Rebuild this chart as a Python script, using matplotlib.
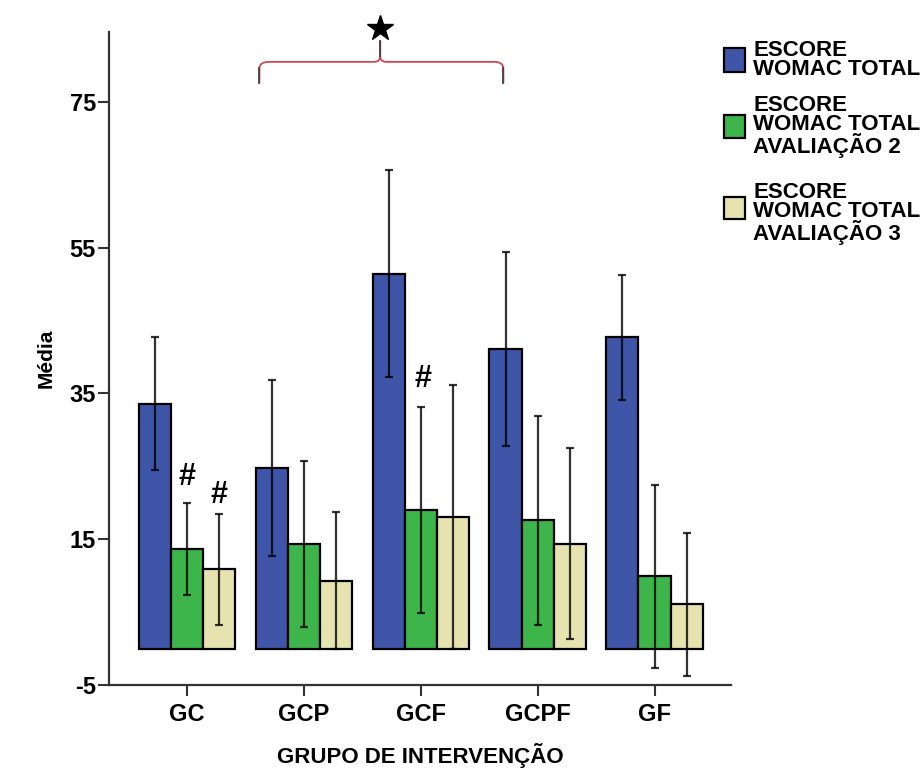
import matplotlib
matplotlib.use("Agg")
import matplotlib.pyplot as plt
import numpy as np
from matplotlib.path import Path
from matplotlib.patches import PathPatch, Rectangle

plt.rcParams['font.family'] = ['Liberation Sans', 'DejaVu Sans']
plt.rcParams['font.weight'] = 'bold'
plt.rcParams['axes.unicode_minus'] = False

# data
grupos = ["GC", "GCP", "GCF", "GCPF", "GF"]
aval1 = [33.6, 24.8, 51.4, 41.1, 42.7]
aval1_err = [9.1, 12.1, 14.2, 13.3, 8.6]
aval2 = [13.7, 14.4, 19.0, 17.6, 9.9]
aval2_err = [6.3, 11.4, 14.1, 14.3, 12.6]
aval3 = [10.9, 9.3, 18.1, 14.4, 6.1]
aval3_err = [7.6, 9.4, 18.1, 13.1, 9.8]
legenda = ["ESCORE\nWOMAC TOTAL",
           "ESCORE\nWOMAC TOTAL\nAVALIAÇÃO 2",
           "ESCORE\nWOMAC TOTAL\nAVALIAÇÃO 3"]
cores = ["#3f56a8", "#3db54a", "#e6e3b0"]
yticks = [-5, 15, 35, 55, 75]

W, H = 921, 780
fig = plt.figure(figsize=(W / 100, H / 100), dpi=100)
ax = fig.add_axes([109 / W, 1 - 685 / H, (731 - 109) / W, (685 - 32) / H])

x = np.arange(len(grupos))
larg = 0.275
series = [(aval1, aval1_err), (aval2, aval2_err), (aval3, aval3_err)]
for i, (vals, errs) in enumerate(series):
    ax.bar(x + (i - 1) * larg, vals, larg, color=cores[i], edgecolor="black",
           linewidth=1.6, yerr=errs,
           error_kw=dict(ecolor="black", elinewidth=1.6, capsize=3,
                         capthick=1.6, alpha=0.8))

ax.set_xlim(-0.667, 4.654)
ax.set_ylim(-5, 84.6)
ax.set_yticks(yticks)
ax.set_xticks(x)
ax.set_xticklabels(grupos)
ax.tick_params(axis="both", labelsize=17, width=1.5, length=8, color="#333")
ax.tick_params(axis="y", pad=1.5)
ax.tick_params(axis="x", pad=5)
for s in ["top", "right"]:
    ax.spines[s].set_visible(False)
for s in ["left", "bottom"]:
    ax.spines[s].set_linewidth(1.6)
    ax.spines[s].set_color("#333")

ax.set_xlabel("GRUPO DE INTERVENÇÃO", fontsize=16, fontweight="bold", labelpad=12)
ax.set_ylabel("Média", fontsize=15, fontweight="bold", labelpad=10)

# significance marks
ax.text(0.0, 23.5, "#", fontsize=22, ha="center", va="center")
ax.text(0.27, 21.1, "#", fontsize=22, ha="center", va="center")
ax.text(2.02, 37.0, "#", fontsize=22, ha="center", va="center")

# curly bracket over GCP..GCF
xl, xc, xr = 0.62, 1.653, 2.707
yb, yh, yt = 77.6, 80.5, 83.4
for sgn, xe in [(1, xl), (-1, xr)]:
    verts = [(xe, yb), (xe, yh - 0.9), (xe, yh), (xe + sgn * 0.08, yh),
             (xc - sgn * 0.05, yh), (xc, yh), (xc, yh + 0.8), (xc, yt)]
    codes = [Path.MOVETO, Path.LINETO, Path.CURVE3, Path.CURVE3,
             Path.LINETO, Path.CURVE3, Path.CURVE3, Path.LINETO]
    ax.add_patch(PathPatch(Path(verts, codes), fill=False, edgecolor="#d04852",
                           linewidth=1.3, clip_on=False))
    ax.plot([xe, xe], [yb, yh - 0.9], color="#444", linewidth=1.3, clip_on=False)
ax.plot([xc, xc], [yh + 0.8, yt], color="#444", linewidth=1.3, clip_on=False)
ax.plot([xc], [85.2], marker="*", markersize=19, color="black", clip_on=False)

# legend drawn by hand
caixas = [(48, 72), (115, 138), (197, 219)]
topo_txt = [40, 95, 182]
for k in range(3):
    y0, y1 = caixas[k]
    fig.patches.append(Rectangle((724 / W, 1 - y1 / H), 21 / W, (y1 - y0) / H,
                                 transform=fig.transFigure, facecolor=cores[k],
                                 edgecolor="black", linewidth=1.6))
    fig.text(753 / W, 1 - topo_txt[k] / H, legenda[k], fontsize=16,
             fontweight="bold", ha="left", va="top", linespacing=0.9)

fig.savefig("out.png", dpi=100, facecolor="white")
